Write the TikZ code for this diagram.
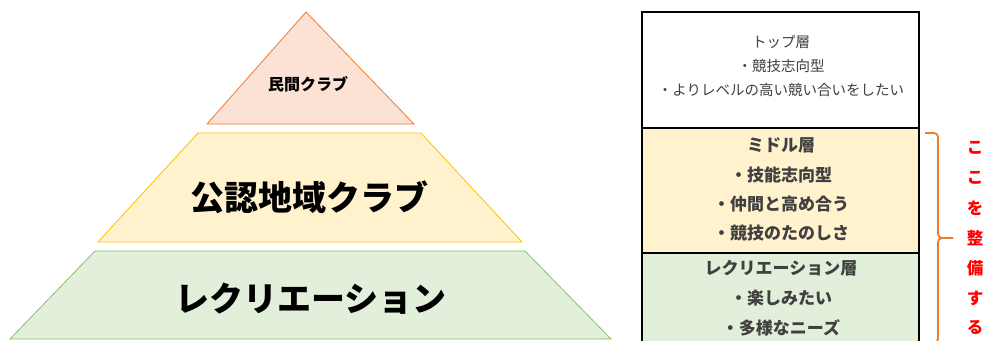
\documentclass[tikz,border=0pt]{standalone}
\usepackage{fontspec}
\setmainfont{Noto Sans CJK JP}
\definecolor{clubfill}{HTML}{FBE2D5}
\definecolor{clubline}{HTML}{ED7D31}
\definecolor{localfill}{HTML}{FFF2CC}
\definecolor{localline}{HTML}{FFC000}
\definecolor{recfill}{HTML}{E2EFDA}
\definecolor{recline}{HTML}{8CBF6A}
\definecolor{textgray}{HTML}{404040}
\definecolor{bracered}{HTML}{FF0000}
\tikzset{
  bigtext/.style={font=\bfseries\fontsize{34}{36}\selectfont},
  toptext/.style={text=textgray, font=\fontsize{14.5}{16}\selectfont},
  midtext/.style={text=textgray, font=\bfseries\fontsize{17}{19}\selectfont},
  redtext/.style={text=bracered, font=\bfseries\fontsize{16.5}{18}\selectfont}
}
\begin{document}
\begin{tikzpicture}[x=1pt,y=-1pt]
\useasboundingbox (0,0) rectangle (985,340);
\clip (0,0) rectangle (985,340);

% pyramid
\draw [fill=clubfill, draw=clubline, line width=0.8pt] (306,12) -- (414,124) -- (207,124) -- cycle;
\draw [fill=localfill, draw=localline, line width=0.8pt] (198,133) -- (421,133) -- (522,242) -- (98,242) -- cycle;
\draw [fill=recfill, draw=recline, line width=0.8pt] (95,251) -- (525,251) -- (611,339) -- (10,339) -- cycle;

\node (club) at (308,84) {\bfseries\fontsize{16}{18}\selectfont 民間クラブ};
\node [bigtext] (local) at (309,197) {公認地域クラブ};
\node [bigtext] (rec) at (311,299) {レクリエーション};

% table
\draw [fill=white, line width=1.8pt] (642,12) rectangle (919,128);
\draw [fill=localfill, line width=1.8pt] (642,128) rectangle (919,253);
\draw [fill=recfill, line width=1.8pt] (642,253) rectangle (919,350);

\node [toptext] (top1) at (781,42) {トップ層};
\node [toptext] (top2) at (781,66) {・競技志向型};
\node [toptext] (top3) at (781,90) {・よりレベルの高い競い合いをしたい};

\node [midtext] (mid1) at (781,145) {ミドル層};
\node [midtext] (mid2) at (781,175) {・技能志向型};
\node [midtext] (mid3) at (781,204) {・仲間と高め合う};
\node [midtext] (mid4) at (781,233) {・競技のたのしさ};

\node [midtext] (rec1) at (781,268) {レクリエーション層};
\node [midtext] (rec2) at (781,298) {・楽しみたい};
\node [midtext] (rec3) at (781,328) {・多様なニーズ};

% brace
\draw [draw=clubline, line width=1.8pt, rounded corners=4pt] (925,133) -- (938,133) -- (938,238) -- (953,238);
\draw [draw=clubline, line width=1.8pt, rounded corners=4pt] (953,238) -- (938,238) -- (938,343) -- (925,343);

\foreach \ch [count=\i from 0] in {こ,こ,を,整,備,す,る} {
\node [redtext] (red\i) at (975,148+30*\i) {\ch};}
\end{tikzpicture}
\end{document}
